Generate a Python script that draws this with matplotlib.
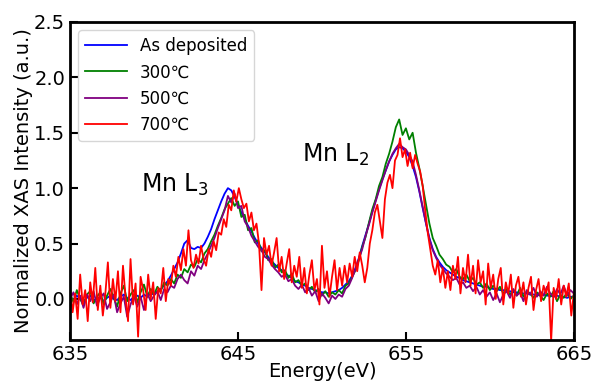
import matplotlib
matplotlib.use("Agg")
import matplotlib.pyplot as plt
import numpy as np

# energy grids (eV)
energy = np.linspace(635, 665, 151)       # 0.2 eV step
energy_red = np.linspace(635, 665, 201)   # 0.15 eV step

as_deposited = [
    0.02, -0.01, 0.03, 0.00, -0.02, 0.01, 0.03, -0.01, 0.00, 0.02,
    -0.02, 0.01, 0.03, 0.00, -0.01, 0.02, 0.04, 0.01, -0.01, 0.02,
    0.03, 0.01, 0.04, 0.02, 0.05, 0.04, 0.07, 0.09, 0.12, 0.16,
    0.21, 0.27, 0.33, 0.41, 0.50, 0.53, 0.46, 0.45, 0.47, 0.46,
    0.50, 0.56, 0.63, 0.72, 0.80, 0.88, 0.95, 1.00, 0.98, 0.92,
    0.85, 0.78, 0.72, 0.66, 0.61, 0.55, 0.50, 0.46, 0.42, 0.38,
    0.34, 0.31, 0.28, 0.26, 0.23, 0.21, 0.19, 0.16, 0.15, 0.13,
    0.12, 0.10, 0.09, 0.08, 0.07, 0.06, 0.06, 0.05, 0.06, 0.07,
    0.08, 0.10, 0.13, 0.16, 0.21, 0.28, 0.37, 0.48, 0.58, 0.68,
    0.79, 0.89, 0.99, 1.08, 1.16, 1.24, 1.30, 1.35, 1.37, 1.36,
    1.33, 1.28, 1.20, 1.10, 0.97, 0.82, 0.68, 0.55, 0.45, 0.38,
    0.33, 0.29, 0.26, 0.24, 0.22, 0.20, 0.19, 0.17, 0.16, 0.15,
    0.14, 0.13, 0.12, 0.11, 0.11, 0.10, 0.09, 0.09, 0.08, 0.08,
    0.07, 0.07, 0.06, 0.06, 0.05, 0.05, 0.05, 0.04, 0.04, 0.04,
    0.03, 0.04, 0.03, 0.03, 0.02, 0.03, 0.02, 0.02, 0.01, 0.02,
    0.02,
]

t300 = [
    0.05, -0.03, 0.08, 0.00, -0.06, 0.04, 0.07, -0.04, 0.02, 0.06,
    -0.05, 0.03, 0.09, 0.01, -0.07, 0.05, 0.12, -0.02, 0.04, 0.08,
    -0.03, 0.06, 0.13, 0.02, 0.09, 0.04, 0.11, 0.07, 0.15, 0.12,
    0.18, 0.14, 0.22, 0.19, 0.27, 0.24, 0.31, 0.29, 0.36, 0.33,
    0.41, 0.45, 0.52, 0.58, 0.66, 0.73, 0.81, 0.86, 0.91, 0.84,
    0.88, 0.74, 0.76, 0.62, 0.64, 0.51, 0.53, 0.43, 0.44, 0.35,
    0.36, 0.28, 0.31, 0.24, 0.26, 0.19, 0.23, 0.15, 0.17, 0.12,
    0.14, 0.08, 0.11, 0.06, 0.09, 0.03, 0.07, 0.02, 0.06, 0.04,
    0.08, 0.05, 0.12, 0.14, 0.20, 0.26, 0.35, 0.47, 0.56, 0.69,
    0.81, 0.90, 1.02, 1.10, 1.22, 1.31, 1.42, 1.55, 1.62, 1.48,
    1.54, 1.44, 1.50, 1.32, 1.18, 1.02, 0.85, 0.68, 0.55, 0.48,
    0.40, 0.36, 0.31, 0.29, 0.24, 0.27, 0.20, 0.18, 0.22, 0.16,
    0.19, 0.13, 0.15, 0.10, 0.14, 0.08, 0.12, 0.07, 0.11, 0.05,
    0.09, 0.04, 0.08, 0.03, 0.10, 0.02, 0.07, 0.05, 0.01, 0.06,
    0.03, -0.01, 0.05, 0.02, 0.07, -0.02, 0.04, 0.01, 0.06, 0.00,
    0.03,
]

t500 = [
    0.00, 0.06, -0.05, 0.03, -0.08, 0.04, -0.02, 0.07, -0.06, 0.01,
    0.05, -0.09, -0.03, 0.04, -0.12, -0.04, 0.02, -0.16, -0.05, 0.03,
    -0.07, 0.02, -0.10, 0.05, -0.02, 0.03, 0.07, -0.01, 0.09, 0.06,
    0.12, 0.10, 0.18, 0.22, 0.17, 0.14, 0.25, 0.21, 0.30, 0.27,
    0.35, 0.41, 0.48, 0.55, 0.64, 0.72, 0.80, 0.93, 0.87, 0.95,
    0.82, 0.84, 0.70, 0.65, 0.57, 0.52, 0.47, 0.44, 0.38, 0.36,
    0.31, 0.27, 0.24, 0.20, 0.22, 0.16, 0.18, 0.12, 0.09, 0.13,
    0.06, 0.10, 0.03, 0.07, -0.02, 0.05, 0.01, -0.04, 0.03, 0.00,
    0.04, 0.02, 0.09, 0.12, 0.19, 0.27, 0.36, 0.45, 0.57, 0.67,
    0.78, 0.88, 0.98, 1.07, 1.16, 1.24, 1.31, 1.36, 1.40, 1.37,
    1.35, 1.30, 1.24, 1.12, 0.98, 0.83, 0.68, 0.54, 0.44, 0.37,
    0.31, 0.27, 0.23, 0.20, 0.17, 0.19, 0.13, 0.15, 0.10, 0.12,
    0.07, 0.11, 0.04, 0.08, 0.02, 0.06, -0.01, 0.05, -0.03, 0.04,
    0.07, 0.01, 0.09, 0.03, 0.06, -0.02, 0.08, 0.04, 0.10, 0.02,
    0.07, 0.03, 0.11, 0.05, 0.02, 0.09, 0.04, 0.12, 0.03, 0.08,
    0.05,
]

t700 = [
    0.10, -0.12, 0.05, -0.18, 0.22, -0.05, 0.08, -0.20, 0.15, -0.03,
    0.28, -0.10, 0.12, -0.15, 0.05, 0.33, -0.08, 0.18, -0.02, 0.25,
    -0.12, 0.30, 0.02, -0.20, 0.36, -0.05, 0.14, -0.34, 0.20, 0.08,
    -0.10, 0.22, 0.00, 0.15, -0.18, 0.10, 0.05, 0.28, -0.02, 0.18,
    0.12, 0.30, 0.20, 0.38, 0.26, 0.45, 0.30, 0.62, 0.35, 0.28,
    0.40, 0.32, 0.48, 0.36, 0.30, 0.45, 0.38, 0.52, 0.44, 0.60,
    0.58, 0.72, 0.65, 0.85, 0.80, 0.98, 0.88, 1.00, 0.90, 0.82,
    0.86, 0.70, 0.78, 0.62, 0.68, 0.50, 0.08, 0.55, 0.40, 0.48,
    0.30, 0.42, 0.55, 0.25, 0.38, 0.18, 0.32, 0.45, 0.15, 0.30,
    0.20, 0.38, 0.10, 0.28, 0.05, 0.22, 0.35, 0.08, 0.18, -0.05,
    0.48, 0.10, 0.25, 0.02, 0.20, 0.35, 0.08, 0.28, 0.12, 0.30,
    0.15, 0.32, 0.20, 0.38, 0.25, 0.42, 0.30, 0.15, 0.28, 0.50,
    0.62, 0.78, 0.85, 0.70, 0.55, 0.90, 1.05, 1.12, 1.00, 1.25,
    1.30, 1.45, 1.28, 1.35, 1.20, 1.32, 1.18, 1.30, 1.22, 1.15,
    1.02, 0.80, 0.60, 0.45, 0.30, 0.22, 0.35, 0.15, 0.28, 0.10,
    0.25, 0.08, 0.30, 0.18, 0.38, 0.05, 0.28, 0.15, 0.40, 0.12,
    0.30, 0.05, 0.35, 0.15, 0.25, -0.05, 0.32, 0.10, 0.22, 0.00,
    0.18, 0.28, -0.05, 0.15, 0.05, 0.22, -0.08, 0.12, 0.20, 0.02,
    0.15, -0.05, 0.10, 0.20, -0.10, 0.08, 0.18, -0.02, 0.12, 0.05,
    0.15, -0.38, 0.10, 0.00, 0.18, -0.05, 0.12, 0.02, 0.14, -0.15,
    0.05,
]

labels = ["As deposited", "300℃", "500℃", "700℃"]
x_ticks = [635, 645, 655, 665]

fig = plt.figure(figsize=(5.94, 3.85), dpi=100)
ax = fig.add_axes([0.118, 0.117, 0.848, 0.826])

ax.plot(energy, as_deposited, color="blue", lw=1.3, label=labels[0])
ax.plot(energy, t300, color="green", lw=1.3, label=labels[1])
ax.plot(energy, t500, color="purple", lw=1.3, label=labels[2])
ax.plot(energy_red, t700, color="red", lw=1.3, label=labels[3])

ax.set_xlim(635, 665)
ax.set_ylim(-0.37, 2.5)
ax.set_xticks(x_ticks)
ax.set_yticks([0.0, 0.5, 1.0, 1.5, 2.0, 2.5])

ax.text(639.2, 1.03, "Mn L$_3$", fontsize=17, va="center")
ax.text(648.8, 1.3, "Mn L$_2$", fontsize=17, va="center")

ax.set_xlabel("Energy(eV)", fontsize=14, labelpad=-1)
ax.set_ylabel("Normalized XAS Intensity (a.u.)", fontsize=14, labelpad=1)

ax.tick_params(axis="both", direction="in", labelsize=14, length=6, width=1.5)
for s in ax.spines.values():
    s.set_linewidth(2)

ax.legend(loc="upper left", fontsize=12, handlelength=2.5)

fig.savefig("out.png", dpi=100)
